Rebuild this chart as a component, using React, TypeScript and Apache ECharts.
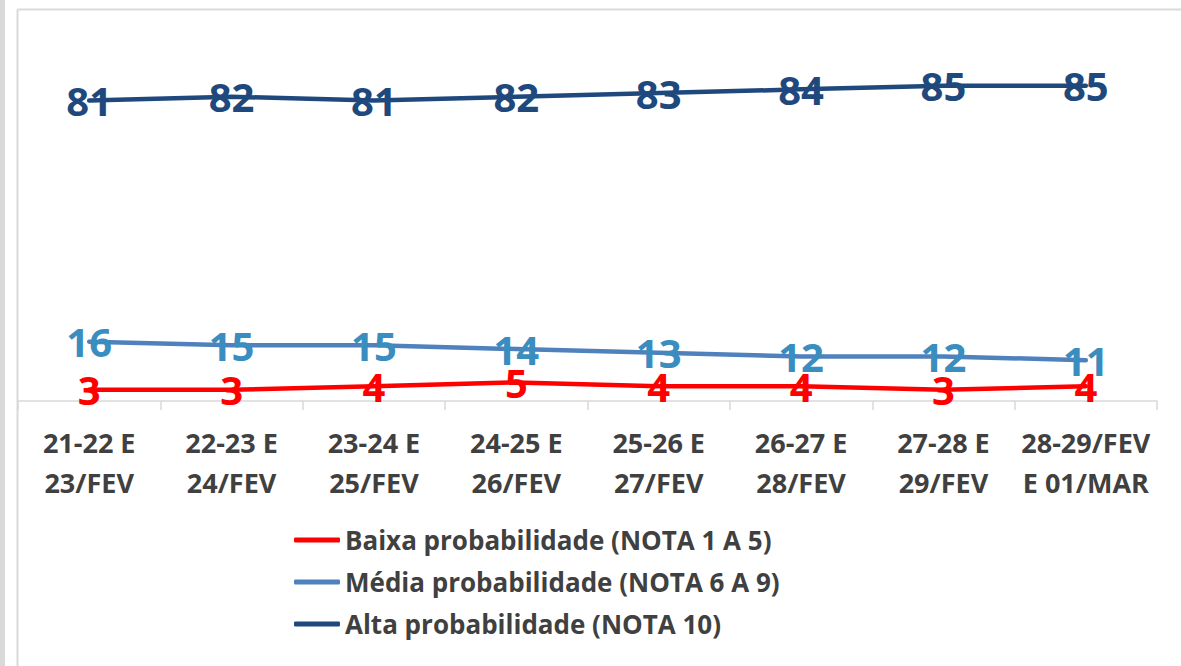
import React, { useEffect, useRef } from "react";
import * as echarts from "echarts";

const categories = [
  "21-22 E\n23/FEV",
  "22-23 E\n24/FEV",
  "23-24 E\n25/FEV",
  "24-25 E\n26/FEV",
  "25-26 E\n27/FEV",
  "26-27 E\n28/FEV",
  "27-28 E\n29/FEV",
  "28-29/FEV\nE 01/MAR",
];
const baixa = [3, 3, 4, 5, 4, 4, 3, 4];
const media = [16, 15, 15, 14, 13, 12, 12, 11];
const alta = [81, 82, 81, 82, 83, 84, 85, 85];
const seriesNames = [
  "Baixa probabilidade (NOTA 1 A 5)",
  "Média probabilidade (NOTA 6 A 9)",
  "Alta probabilidade (NOTA 10)",
];

const FONT = "'Open Sans', 'Noto Sans', sans-serif";

export default function App() {
  const ref = useRef<HTMLDivElement>(null);
  useEffect(() => {
    if (!ref.current) return;
    const chart = echarts.init(ref.current, null, { renderer: "svg" });
    const mk = (name: string, data: number[], lineColor: string, labelColor: string) => ({
      name,
      type: "line",
      data,
      symbol: "circle",
      symbolSize: 3,
      showSymbol: true,
      color: lineColor,
      itemStyle: { color: lineColor },
      lineStyle: { width: 4.5, color: lineColor, cap: "round" },
      label: {
        show: true,
        position: "inside",
        color: labelColor,
        fontSize: 40,
        fontWeight: "bold",
        fontFamily: FONT,
      },
      labelLayout: { hideOverlap: false },
    });
    chart.setOption({
      animation: false,
      backgroundColor: "#ffffff",
      grid: { left: 18, right: 24, top: 30, bottom: 265, containLabel: false },
      xAxis: {
        type: "category",
        data: categories,
        boundaryGap: true,
        axisLine: { show: true, lineStyle: { color: "#d9d9d9", width: 1.5 } },
        axisTick: { show: true, length: 9, lineStyle: { color: "#d9d9d9", width: 1.5 } },
        axisLabel: {
          color: "#404040",
          fontSize: 27,
          fontWeight: "bold",
          fontFamily: FONT,
          lineHeight: 40,
          margin: 21,
          interval: 0,
        },
      },
      yAxis: {
        type: "value",
        min: 0,
        max: 100,
        show: false,
        splitLine: { show: false },
      },
      legend: {
        orient: "vertical",
        left: 289,
        top: 520,
        icon: "roundRect",
        itemWidth: 46,
        itemHeight: 5,
        itemGap: 12,
        data: seriesNames,
        textStyle: {
          color: "#404040",
          fontSize: 26,
          fontWeight: "bold",
          fontFamily: FONT,
          lineHeight: 30,
        },
      },
      graphic: [
        { type: "rect", shape: { x: 0, y: 0, width: 5, height: 666 }, style: { fill: "#d9d9d9" }, silent: true },
        { type: "line", shape: { x1: 17.5, y1: 9.5, x2: 17.5, y2: 666 }, style: { stroke: "#d9d9d9", lineWidth: 2 }, silent: true },
        { type: "line", shape: { x1: 17.5, y1: 9.5, x2: 1181, y2: 9.5 }, style: { stroke: "#d9d9d9", lineWidth: 2 }, silent: true },
      ],
      series: [
        mk(seriesNames[2], alta, "#1f497d", "#1f497d"),
        mk(seriesNames[1], media, "#4f81bd", "#3a8dbf"),
        mk(seriesNames[0], baixa, "#ff0000", "#ff0000"),
      ],
    });
    return () => chart.dispose();
  }, []);
  return (
    <div
      ref={ref}
      style={{ position: "fixed", left: 0, top: 0, width: 1181, height: 666 }}
    />
  );
}
